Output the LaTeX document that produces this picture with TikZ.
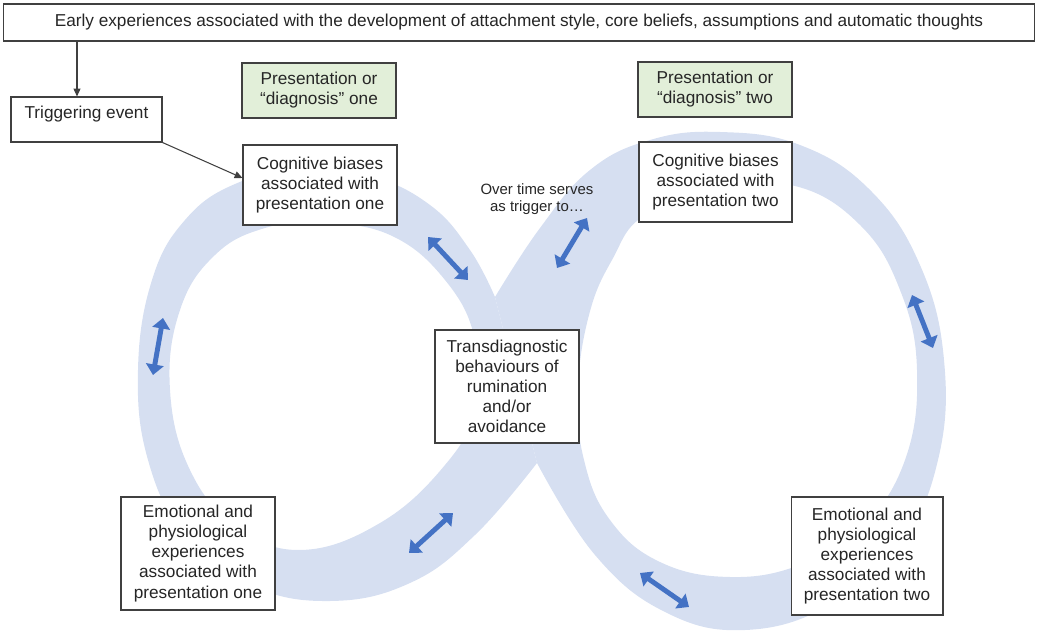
\documentclass[tikz,border=0pt]{standalone}
\usepackage{fontspec}
\setmainfont{Liberation Sans}
\usetikzlibrary{arrows.meta}
\definecolor{bandblue}{RGB}{214,223,241}
\definecolor{arrowblue}{RGB}{68,114,196}
\definecolor{labelgreen}{RGB}{226,239,217}
\definecolor{boxline}{RGB}{64,64,64}
\definecolor{inkgray}{RGB}{38,38,38}
\tikzset{
  box/.style={draw=boxline, line width=0.6pt, fill=white, align=center, inner sep=0pt,
    text=inkgray, font=\fontsize{9.8}{11.4}\selectfont},
  greenbox/.style={box, fill=labelgreen},
  twoway/.style={draw=arrowblue, line width=2.8pt,
    {Triangle[length=6pt,width=10pt]}-{Triangle[length=6pt,width=10pt]}},
  link/.style={draw=boxline, line width=0.6pt, -{Triangle[length=4.5pt,width=4pt]}}
}
\begin{document}
\begin{tikzpicture}[x=0.02cm, y=-0.02cm]
  \useasboundingbox (0,0) rectangle (1037,634);
  \fill[bandblue, even odd rule]
    plot[smooth, tension=0.7] coordinates {(495,297) (470,250) (430,205) (370,176)
      (300,170) (235,184) (185,220) (152,280) (138,370) (148,460) (185,535) (250,585)
      (330,601) (410,583) (475,535) (537,463)} -- cycle
    plot[smooth cycle, tension=0.7] coordinates {(320,223) (390,235) (445,280) (475,340)
      (474,410) (445,465) (380,523) (300,550) (235,525) (190,470) (170,390) (180,310)
      (215,255) (265,228)};
  \fill[bandblue, even odd rule]
    plot[smooth, tension=0.7] coordinates {(495,297) (540,228) (590,170) (650,140)
      (720,132) (800,145) (870,190) (920,265) (944,360) (938,460) (900,545) (830,605)
      (745,630) (665,612) (595,555) (537,463)} -- cycle
    plot[smooth cycle, tension=0.7] coordinates {(645,215) (612,260) (589,315) (578,390)
      (584,460) (610,520) (660,562) (730,577) (800,565) (860,530) (905,460) (917,370)
      (900,290) (860,225) (795,186) (720,190)};

  \node[box, minimum width=20.64cm, minimum height=0.74cm] (early) at (519,22.5)
    {Early experiences associated with the development of attachment style, core beliefs, assumptions and automatic thoughts};
  \node[box, minimum width=3.02cm, minimum height=0.9cm, text depth=0.3cm] (trigger) at (86.5,119.5)
    {Triggering event};
  \node[greenbox, minimum width=3.08cm, minimum height=1.1cm] (labelone) at (319,90.5)
    {Presentation or\\``diagnosis'' one};
  \node[greenbox, minimum width=3.08cm, minimum height=1.1cm] (labeltwo) at (715,89.5)
    {Presentation or\\``diagnosis'' two};
  \node[box, minimum width=3.08cm, minimum height=1.6cm] (biasone) at (320,185)
    {Cognitive biases\\associated with\\presentation one};
  \node[box, minimum width=3.06cm, minimum height=1.6cm] (biastwo) at (715.5,182)
    {Cognitive biases\\associated with\\presentation two};
  \node[box, minimum width=2.88cm, minimum height=2.26cm] (trans) at (507,386.5)
    {Transdiagnostic\\behaviours of\\rumination\\and/or\\avoidance};
  \node[box, minimum width=3.08cm, minimum height=2.26cm] (emoone) at (198,553.5)
    {Emotional and\\physiological\\experiences\\associated with\\presentation one};
  \node[box, minimum width=3.04cm, minimum height=2.36cm] (emotwo) at (867,556)
    {Emotional and\\physiological\\experiences\\associated with\\presentation two};
  \node[align=center, text=inkgray, font=\fontsize{8.5}{9.4}\selectfont] (overtime) at (537,199)
    {Over time serves\\as trigger to\dots};

  \coordinate (drop) at (77,0);
  \draw[link] (early.south -| drop) -- (trigger.north -| drop);
  \draw[link] (trigger.south east) -- ([yshift=0.14cm]biasone.west);

  \coordinate (a1) at (428,237);  \coordinate (b1) at (468,280);
  \coordinate (a2) at (587,218);  \coordinate (b2) at (557,268);
  \coordinate (a3) at (163,318);  \coordinate (b3) at (153,375);
  \coordinate (a4) at (912,295);  \coordinate (b4) at (933,348);
  \coordinate (a5) at (453,513);  \coordinate (b5) at (409,553);
  \coordinate (a6) at (640,573);  \coordinate (b6) at (689,607);
  \foreach \i in {1,...,6}
    \draw[twoway] (a\i) -- (b\i);
\end{tikzpicture}
\end{document}
